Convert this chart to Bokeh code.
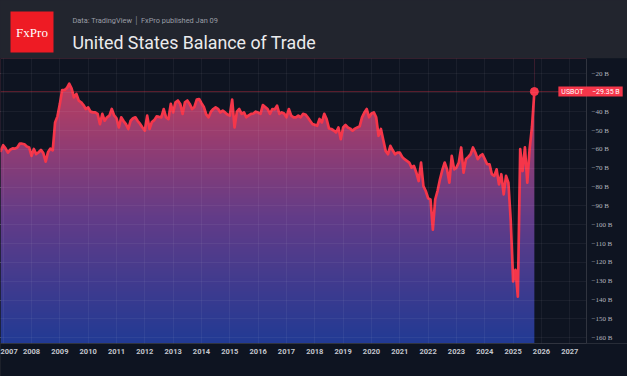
import numpy as np
from bokeh.plotting import figure
from bokeh.layouts import column
from bokeh.models import (Range1d, FixedTicker, Span, Label, LabelSet, Grid,
                          BoxAnnotation, ColumnDataSource)
from bokeh.core.properties import value
from bokeh.embed import file_html
from bokeh.resources import INLINE

# ---- data: US balance of trade, billions USD, monthly (first value = Nov 2006) ----
first_year, first_month = 2006, 11
bal_2006 = [-59.0, -60.8]
bal_2007 = [-57.8, -59.5, -61.7, -60.2, -59.5, -59.6, -59.0, -57.0, -57.0, -57.3, -58.5, -59.0]
bal_2008 = [-63.5, -59.8, -62.5, -61.5, -60.3, -62.0, -66.5, -61.5, -59.6, -60.5, -45.7, -42.5]
bal_2009 = [-36.0, -28.5, -28.5, -27.5, -25.2, -27.8, -32.4, -30.6, -34.1, -35.0, -36.5, -38.6]
bal_2010 = [-37.7, -40.0, -40.4, -40.4, -41.2, -46.6, -41.2, -44.8, -43.0, -42.1, -38.6, -42.0]
bal_2011 = [-43.5, -48.4, -43.0, -45.0, -46.6, -49.2, -44.8, -43.5, -43.0, -45.0, -46.5, -48.4]
bal_2012 = [-50.1, -42.1, -49.2, -45.5, -44.5, -42.5, -42.8, -43.0, -38.6, -43.0, -44.0, -35.9]
bal_2013 = [-40.4, -35.0, -34.1, -35.9, -41.2, -35.0, -34.1, -35.9, -38.6, -37.5, -33.6, -33.3]
bal_2014 = [-35.5, -37.5, -41.5, -43.0, -40.0, -38.6, -37.7, -38.5, -40.4, -39.5, -40.4, -41.5]
bal_2015 = [-42.1, -33.6, -48.4, -40.0, -38.6, -41.2, -40.4, -43.0, -42.0, -41.2, -41.0, -40.0]
bal_2016 = [-40.5, -41.2, -36.5, -37.5, -38.6, -41.2, -38.6, -38.8, -36.8, -41.2, -40.4, -41.0]
bal_2017 = [-43.0, -38.6, -42.1, -43.0, -43.0, -42.1, -43.0, -41.2, -41.5, -43.0, -44.8, -46.6]
bal_2018 = [-47.0, -47.5, -43.9, -45.7, -41.2, -43.9, -48.9, -49.2, -50.0, -51.0, -48.4, -54.6]
bal_2019 = [-48.4, -47.1, -48.4, -49.0, -50.1, -49.0, -48.4, -47.8, -43.0, -40.5, -38.6, -43.0]
bal_2020 = [-41.0, -40.4, -43.0, -52.8, -49.2, -55.0, -60.8, -62.6, -58.1, -60.5, -62.6, -61.7]
bal_2021 = [-61.7, -64.0, -65.2, -66.1, -67.0, -69.7, -68.8, -72.4, -76.8, -67.0, -79.5, -82.1]
bal_2022 = [-86.0, -86.6, -102.6, -86.6, -82.0, -76.0, -71.0, -67.0, -70.6, -77.7, -63.5, -70.6]
bal_2023 = [-69.7, -67.0, -59.0, -72.4, -65.2, -64.0, -62.6, -59.0, -61.7, -65.2, -63.5, -62.6]
bal_2024 = [-65.2, -67.9, -67.9, -73.2, -74.1, -70.6, -78.6, -73.2, -83.9, -74.1, -77.7, -98.0]
bal_2025 = [-130.1, -123.9, -138.1, -59.9, -71.5, -59.0, -77.7, -59.6, -48.0, -29.35]

year_ticks = list(range(2007, 2028))
value_ticks = list(range(-160, -10, 10))
value_labels = [f"\u2212{abs(v)} B" for v in value_ticks]
symbol = "USBOT"
subtitle = "Data: TradingView \u2502 FxPro published Jan 09"
title = "United States Balance of Trade"
brand = "FxPro"

balance = (bal_2006 + bal_2007 + bal_2008 + bal_2009 + bal_2010 + bal_2011 + bal_2012
           + bal_2013 + bal_2014 + bal_2015 + bal_2016 + bal_2017 + bal_2018 + bal_2019
           + bal_2020 + bal_2021 + bal_2022 + bal_2023 + bal_2024 + bal_2025)
xs = [first_year + (first_month - 1) / 12 + i / 12 for i in range(len(balance))]

BG = "#0e1421"
HEAD = "#22252e"
RED = "#f5364a"
SEP = "#30343f"

# ---------------- header ----------------
head = figure(width=627, height=58, x_range=Range1d(0, 627), y_range=Range1d(58, 0),
              toolbar_location=None, output_backend="svg", min_border=0,
              x_axis_location=None, y_axis_location=None,
              background_fill_color=HEAD, border_fill_color=HEAD, outline_line_color=None)
head.grid.visible = False
head.quad(left=[10], right=[53], top=[11], bottom=[52], fill_color="#ee1b24", line_color=None)
head.text(x=[31.5], y=[32], text=[brand], text_align="center", text_baseline="middle",
          text_font=value("Liberation Serif"), text_font_size="13px", text_color="white")
head.text(x=[72], y=[20], text=[subtitle], text_align="left", text_baseline="middle",
          text_font=value("Roboto"), text_font_size="7.4px", text_color="#9a9da6")
head.text(x=[72], y=[42], text=[title], text_align="left", text_baseline="alphabetic",
          text_font=value("Roboto"), text_font_size="17.8px", text_color="#ebebed")

# ---------------- main chart ----------------
x0, x_sep = 2006.906, 2027.59          # visible time span of the data pane
x_full = x0 + (x_sep - x0) * 627 / 586  # plus the price-scale pane on the right
y0, y1 = -163.0, -11.8
p = figure(width=627, height=318, x_range=Range1d(x0, x_full), y_range=Range1d(y0, y1),
           y_axis_location=None, toolbar_location=None, output_backend="svg",
           min_border_left=0, min_border_top=0, min_border_right=0, min_border_bottom=33,
           background_fill_color=BG, border_fill_color=BG, outline_line_color=None)

# gradient fill (image) masked above the line
n = 256
t = np.linspace(0.0, 1.0, n)  # 0 = bottom, 1 = top
stops_t = [0.0, 0.45, 1.0]
stops_c = [(34, 58, 148), (100, 60, 136), (205, 62, 88)]
rgb = np.stack([np.interp(t, stops_t, [c[k] for c in stops_c]) for k in range(3)], axis=1)
img = np.zeros((n, 1), dtype=np.uint32)
view = img.view(dtype=np.uint8).reshape((n, 1, 4))
view[:, 0, 0] = rgb[:, 0].astype(np.uint8)
view[:, 0, 1] = rgb[:, 1].astype(np.uint8)
view[:, 0, 2] = rgb[:, 2].astype(np.uint8)
view[:, 0, 3] = 255
p.image_rgba(image=[img], x=x0, y=y0, dw=x_sep - x0, dh=y1 - y0)
p.varea(x=xs, y1=balance, y2=[y1] * len(xs), fill_color=BG)
p.quad(left=[xs[-1]], right=[x_full], bottom=[y0], top=[y1], fill_color=BG, line_color=None)

p.line(xs, balance, line_color=RED, line_width=2.7, line_join="round")
p.scatter([xs[-1]], [balance[-1]], size=8, fill_color=RED, line_color=RED)

# grids
p.xaxis.ticker = FixedTicker(ticks=year_ticks)
p.xgrid.grid_line_color = "#ffffff"
p.xgrid.grid_line_alpha = 0.05
p.xgrid.level = "guide"
p.add_layout(Grid(dimension=1, ticker=FixedTicker(ticks=value_ticks),
                  grid_line_color="#ffffff", grid_line_alpha=0.05, level="guide"))

p.add_layout(Span(location=balance[-1], dimension="width", line_color=RED,
                  line_alpha=0.35, line_width=1))

# price-scale pane
p.add_layout(BoxAnnotation(left=x_sep, fill_color=BG, fill_alpha=1.0, line_color=None))
p.add_layout(Span(location=x_sep, dimension="height", line_color=SEP, line_width=1))
ysrc = ColumnDataSource(dict(x=[x_sep] * len(value_ticks), y=value_ticks, t=value_labels))
p.add_layout(LabelSet(x="x", y="y", text="t", source=ysrc, x_offset=5,
                      text_font="Roboto", text_font_size="7px", text_color="#b2b5be",
                      text_align="left", text_baseline="middle"))
gap = "\u00a0" * 5
p.add_layout(Label(x=xs[-1], y=balance[-1], x_offset=24,
                   text=f"{symbol}{gap}\u2212{abs(balance[-1]):.2f}\u00a0B",
                   text_font="Roboto", text_font_size="7px", text_color="white",
                   text_align="left", text_baseline="middle",
                   background_fill_color=RED,
                   padding=dict(left=3, right=3, top=1, bottom=1)))

# x axis
p.xaxis.axis_line_color = SEP
p.xaxis.major_tick_line_color = None
p.xaxis.minor_tick_line_color = None
p.xaxis.major_tick_out = 0
p.xaxis.major_tick_in = 0
p.xaxis.major_label_standoff = 5
p.xaxis.major_label_text_font = "Roboto"
p.xaxis.major_label_text_font_size = "7.5px"
p.xaxis.major_label_text_font_style = "bold"
p.xaxis.major_label_text_color = "#c3c6cd"

layout = column(head, p, spacing=0, styles={"background-color": HEAD})
open("out.html", "w").write(file_html(layout, INLINE))
